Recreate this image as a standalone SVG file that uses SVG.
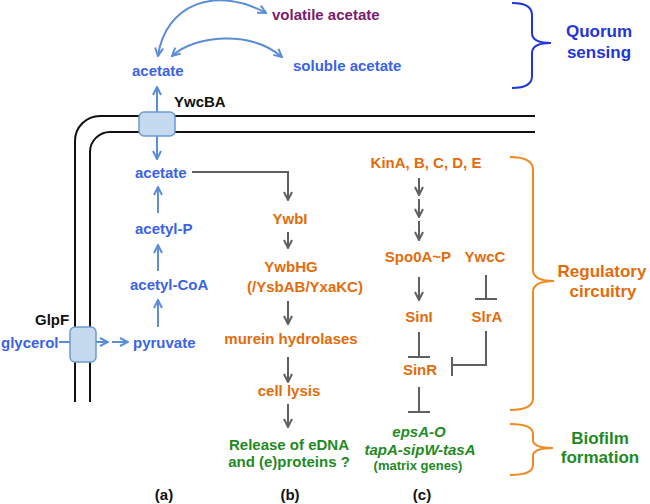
<svg xmlns="http://www.w3.org/2000/svg" width="650" height="504" viewBox="0 0 650 504">
<style>
text{font-family:"Liberation Sans",Arial,sans-serif;font-weight:bold;font-size:15px}
.bl{fill:#3a63e6}
.or{fill:#e36c0a}
.gr{fill:#1f8a1f}
.k{fill:#111}
.pu{fill:#7a1a6e}
.ga{stroke:#606060;stroke-width:2;fill:none}
.ba{stroke:#5b8ed6;stroke-width:2;fill:none}
.mem{stroke:#111;stroke-width:2;fill:none}
.box{fill:#c5d9ef;stroke:#6c9bd0;stroke-width:1.5}
</style>
<defs>
<marker id="mg" viewBox="0 0 10 10" refX="9" refY="5" markerWidth="10" markerHeight="10" markerUnits="userSpaceOnUse" orient="auto-start-reverse"><path d="M1,1 L9,5 L1,9" fill="none" stroke="#606060" stroke-width="2"/></marker>
<marker id="mb" viewBox="0 0 10 10" refX="9" refY="5" markerWidth="10" markerHeight="10" markerUnits="userSpaceOnUse" orient="auto-start-reverse"><path d="M1,1 L9,5 L1,9" fill="none" stroke="#5b8ed6" stroke-width="2"/></marker>
</defs>
<g id="membrane">
<path class="mem" d="M535,116 H100 A25,25 0 0 0 75,141 V402"/>
<path class="mem" d="M535,132 H110 A20,20 0 0 0 90,152 V402"/>
</g>
<g id="connectors">
<path class="ba" d="M157,112 V87" marker-end="url(#mb)"/>
<path class="ba" d="M157,136 V159" marker-end="url(#mb)"/>
<path class="ba" d="M158,56 C165,5 215,-15 266,13" marker-start="url(#mb)" marker-end="url(#mb)"/>
<path class="ba" d="M172,56 C195,35 250,30 282,57" marker-start="url(#mb)" marker-end="url(#mb)"/>
<path class="ba" d="M158,213 V187" marker-end="url(#mb)"/>
<path class="ba" d="M158,271 V245" marker-end="url(#mb)"/>
<path class="ba" d="M158,327 V300" marker-end="url(#mb)"/>
<path class="ba" d="M59,342 H70"/>
<path class="ba" d="M96,342 H108" marker-end="url(#mb)"/>
<path class="ba" d="M112,342 H128" marker-end="url(#mb)"/>
<path class="ga" d="M192,172 H288 V200" marker-end="url(#mg)"/>
<path class="ga" d="M288,232 V248" marker-end="url(#mg)"/>
<path class="ga" d="M288,301 V324" marker-end="url(#mg)"/>
<path class="ga" d="M288,357 V382" marker-end="url(#mg)"/>
<path class="ga" d="M288,404 V427" marker-end="url(#mg)"/>
<path class="ga" d="M419,178 V195" marker-end="url(#mg)"/>
<path class="ga" d="M419,199 V217" marker-end="url(#mg)"/>
<path class="ga" d="M419,221 V240" marker-end="url(#mg)"/>
<path class="ga" d="M419,277 V300" marker-end="url(#mg)"/>
<path class="ga" d="M486,275 V299 M475,299 H497"/>
<path class="ga" d="M419,332 V357 M408,357 H430"/>
<path class="ga" d="M486,331 V365 H452 M452,357 V376"/>
<path class="ga" d="M419,387 V412 M408,412 H430"/>
</g>
<g id="YwcBA"><rect class="box" x="139" y="112" width="36" height="24" rx="5"/><text class="k" x="174" y="107">YwcBA</text></g>
<g id="GlpF"><rect class="box" x="70" y="327" width="26" height="35" rx="5"/><text class="k" x="35" y="325">GlpF</text></g>
<g id="acetate-out"><text class="bl" x="132" y="76">acetate</text></g>
<g id="volatile"><text class="pu" x="272" y="20">volatile acetate</text></g>
<g id="soluble"><text class="bl" x="293" y="71">soluble acetate</text></g>
<g id="acetate-in"><text class="bl" x="135" y="178">acetate</text></g>
<g id="acetylP"><text class="bl" x="135" y="234">acetyl-P</text></g>
<g id="acetylCoA"><text class="bl" x="130" y="290">acetyl-CoA</text></g>
<g id="pyruvate"><text class="bl" x="133" y="348">pyruvate</text></g>
<g id="glycerol"><text class="bl" x="1" y="348">glycerol</text></g>
<g id="ywbI"><text class="or" x="290" y="224" text-anchor="middle">YwbI</text></g>
<g id="ywbHG"><text class="or" x="291" y="272" text-anchor="middle">YwbHG</text><text class="or" x="305" y="292" text-anchor="middle">(/YsbAB/YxaKC)</text></g>
<g id="murein"><text class="or" x="291" y="344" text-anchor="middle">murein hydrolases</text></g>
<g id="lysis"><text class="or" x="289" y="396" text-anchor="middle">cell lysis</text></g>
<g id="release"><text class="gr" x="289" y="450" text-anchor="middle">Release of eDNA</text><text class="gr" x="289" y="467" text-anchor="middle">and (e)proteins ?</text></g>
<g id="kin"><text class="or" x="426" y="168" text-anchor="middle">KinA, B, C, D, E</text></g>
<g id="spo0a"><text class="or" x="418" y="262" text-anchor="middle">Spo0A~P</text></g>
<g id="ywcC"><text class="or" x="485" y="262" text-anchor="middle">YwcC</text></g>
<g id="sinI"><text class="or" x="419" y="322" text-anchor="middle">SinI</text></g>
<g id="slrA"><text class="or" x="487" y="322" text-anchor="middle">SlrA</text></g>
<g id="sinR"><text class="or" x="420" y="375" text-anchor="middle">SinR</text></g>
<g id="matrix"><text class="gr" x="419" y="437" text-anchor="middle" font-style="italic">epsA-O</text><text class="gr" x="420" y="455" text-anchor="middle" font-style="italic">tapA-sipW-tasA</text><text class="gr" x="418" y="470" text-anchor="middle" style="font-size:13px">(matrix genes)</text></g>
<g id="quorum"><path d="M512,3 Q532,3 532,15 V33 Q532,43 551,43 Q532,43 532,53 V76 Q532,88 512,88" fill="none" stroke="#1f35d8" stroke-width="2"/><text x="599" y="37" text-anchor="middle" style="font-size:17px;fill:#1f35d8">Quorum</text><text x="599" y="58" text-anchor="middle" style="font-size:17px;fill:#1f35d8">sensing</text></g>
<g id="regulatory"><path d="M510,157 Q533,157 533,170 V270 Q533,281 554,281 Q533,281 533,292 V398 Q533,410 510,410" fill="none" stroke="#f08a20" stroke-width="2"/><text x="602" y="277" text-anchor="middle" class="or" style="font-size:17px">Regulatory</text><text x="603" y="297" text-anchor="middle" class="or" style="font-size:17px">circuitry</text></g>
<g id="biofilm"><path d="M510,424 Q533,424 533,434 V440 Q533,448 553,448 Q533,448 533,456 V465 Q533,475 510,475" fill="none" stroke="#f08a20" stroke-width="2"/><text x="600" y="444" text-anchor="middle" class="gr" style="font-size:17px">Biofilm</text><text x="600" y="463" text-anchor="middle" class="gr" style="font-size:17px">formation</text></g>
<g id="labels"><text class="k" x="164" y="500" text-anchor="middle">(a)</text><text class="k" x="290" y="500" text-anchor="middle">(b)</text><text class="k" x="422" y="500" text-anchor="middle">(c)</text></g>
</svg>
